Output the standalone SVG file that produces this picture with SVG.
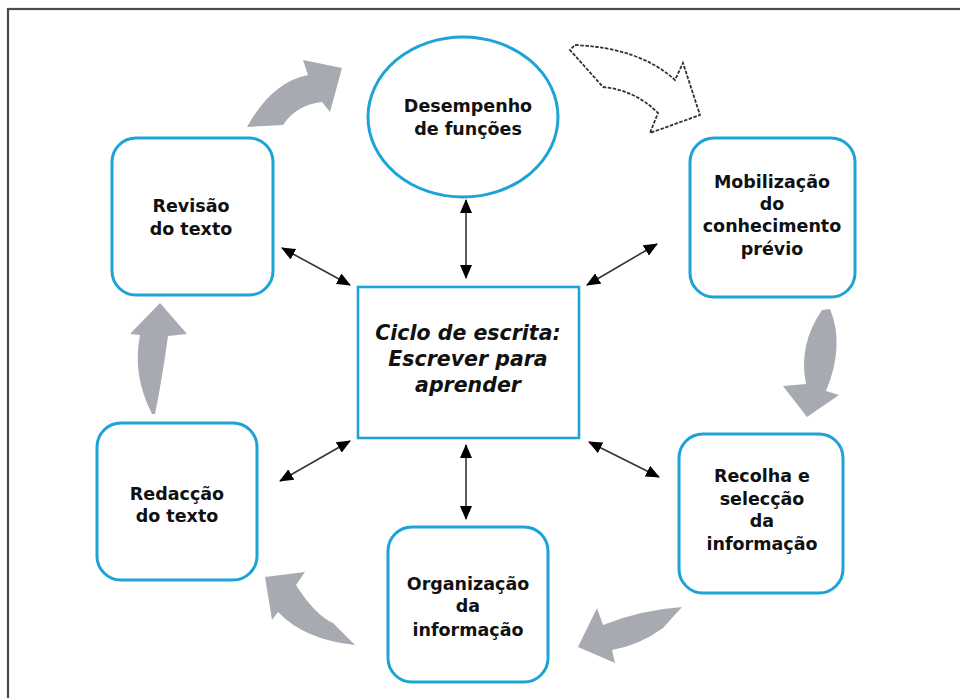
<svg xmlns="http://www.w3.org/2000/svg" width="960" height="698" viewBox="0 0 960 698">
<style>
.box{fill:#fff;stroke:#1ea3d6;stroke-width:3}
.lbl{font-family:"DejaVu Sans","Liberation Sans",sans-serif;font-weight:bold;font-size:17.5px;fill:#111;text-anchor:middle}
.ctr{font-family:"DejaVu Sans","Liberation Sans",sans-serif;font-weight:bold;font-style:italic;font-size:20.5px;fill:#111;text-anchor:middle}
.flow{fill:#a7aab1}
.link{stroke:#333;stroke-width:1.6;fill:none;marker-start:url(#ah);marker-end:url(#ah)}
</style>
<defs>
<marker id="ah" markerUnits="userSpaceOnUse" viewBox="0 0 14 12" markerWidth="14" markerHeight="12" refX="13" refY="6" orient="auto-start-reverse">
<path d="M0,0 L14,6 L0,12 Z" fill="#000"/>
</marker>
</defs>
<rect x="0" y="0" width="960" height="698" fill="#fff"/>
<rect id="frame" x="8" y="9" width="960" height="700" fill="none" stroke="#4a4a50" stroke-width="2.2"/>

<g id="flows">
<path class="flow" d="M247,127 Q272,82 308,75 L303,60 L342,68 L330,112 L322,102 Q296,105 283,125 Z"/>
<path d="M575,45 Q640,48 675,80 L683,63 L700,115 L650,133 L658,113 Q635,90 603,87 L570,50 Z" fill="#fff" stroke="#333" stroke-width="1.8" stroke-dasharray="3.5,1.5"/>
<path class="flow" d="M822,310 Q798,345 806,384 L783,386 L807,417 L839,395 L826,391 Q845,345 830,309 Z"/>
<path class="flow" d="M682,607 Q640,610 603,625 L597,608 L578,647 L615,663 L612,650 Q640,645 663,628 Z"/>
<path class="flow" d="M355,645 Q305,640 278,612 L272,620 L265,577 L305,572 L296,585 Q315,615 333,623 Z"/>
<path class="flow" d="M152,414 Q132,375 140,335 L130,334 L160,303 L187,334 L168,336 Q162,380 155,414 Z"/>
</g>

<g id="connectors">
<line class="link" x1="466" y1="200" x2="466" y2="278"/>
<line class="link" x1="466" y1="445" x2="466" y2="519"/>
<line class="link" x1="282" y1="248" x2="350" y2="285"/>
<line class="link" x1="280" y1="481" x2="350" y2="441"/>
<line class="link" x1="657" y1="244" x2="587" y2="285"/>
<line class="link" x1="589" y1="442" x2="659" y2="477"/>
</g>

<g id="n-desempenho">
<ellipse class="box" cx="463" cy="117" rx="95" ry="80"/>
<text class="lbl" x="468" y="112">Desempenho</text>
<text class="lbl" x="468" y="135">de funções</text>
</g>
<g id="n-mobilizacao">
<rect class="box" x="690" y="138" width="165" height="159" rx="24"/>
<text class="lbl" x="772" y="188">Mobilização</text>
<text class="lbl" x="772" y="210">do</text>
<text class="lbl" x="772" y="232">conhecimento</text>
<text class="lbl" x="772" y="255">prévio</text>
</g>
<g id="n-recolha">
<rect class="box" x="679" y="434" width="164" height="159" rx="24"/>
<text class="lbl" x="762" y="482">Recolha e</text>
<text class="lbl" x="762" y="505">selecção</text>
<text class="lbl" x="762" y="527">da</text>
<text class="lbl" x="762" y="550">informação</text>
</g>
<g id="n-organizacao">
<rect class="box" x="388" y="527" width="160" height="155" rx="24"/>
<text class="lbl" x="468" y="590">Organização</text>
<text class="lbl" x="468" y="612">da</text>
<text class="lbl" x="468" y="636">informação</text>
</g>
<g id="n-redaccao">
<rect class="box" x="97" y="423" width="160" height="157" rx="24"/>
<text class="lbl" x="177" y="500">Redacção</text>
<text class="lbl" x="177" y="522">do texto</text>
</g>
<g id="n-revisao">
<rect class="box" x="112" y="138" width="161" height="157" rx="24"/>
<text class="lbl" x="191" y="212">Revisão</text>
<text class="lbl" x="191" y="235">do texto</text>
</g>
<g id="n-centro">
<rect x="358" y="287" width="221" height="151" fill="#fff" stroke="#1ea3d6" stroke-width="2.6"/>
<text class="ctr" x="468" y="340">Ciclo de escrita:</text>
<text class="ctr" x="468" y="366">Escrever para</text>
<text class="ctr" x="468" y="392">aprender</text>
</g>
</svg>
